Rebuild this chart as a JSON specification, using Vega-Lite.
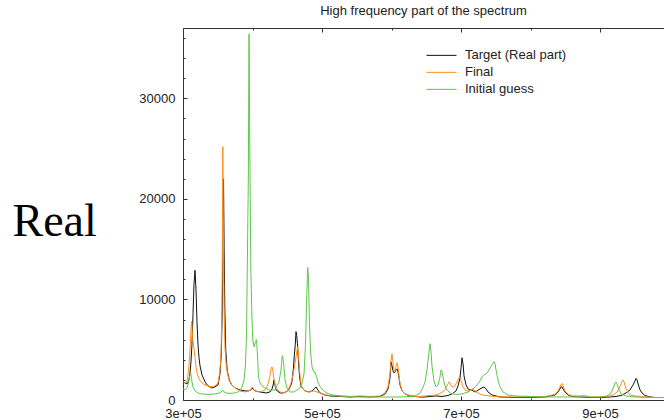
{
  "$schema": "https://vega.github.io/schema/vega-lite/v6.json",
  "width": 481,
  "height": 372,
  "autosize": {"type": "none"},
  "padding": {"left": 183, "top": 28, "right": 0, "bottom": 20},
  "background": "white",
  "title": {
    "text": "High frequency part of the spectrum",
    "font": "Liberation Sans",
    "fontSize": 13,
    "fontWeight": "normal",
    "color": "#222222",
    "anchor": "middle",
    "offset": 10
  },
  "config": {
    "view": {"stroke": null},
    "axis": {
      "grid": false,
      "domainColor": "#333333",
      "tickColor": "#333333",
      "labelFont": "Liberation Sans",
      "labelFontSize": 13,
      "labelColor": "#222222",
      "labelFlush": false,
      "labelOverlap": false
    },
    "legend": {
      "orient": "none",
      "legendX": 243,
      "legendY": 19,
      "padding": 0,
      "symbolType": "stroke",
      "symbolSize": 900,
      "symbolStrokeWidth": 1,
      "labelFont": "Liberation Sans",
      "labelFontSize": 13,
      "labelColor": "#222222",
      "labelOffset": 8,
      "clipHeight": 16.7,
      "rowPadding": 0
    }
  },
  "datasets": {
    "target": [
      {"freq":300000,"amp":1800},{"freq":302900,"amp":1700},{"freq":305800,"amp":1600},{"freq":308600,"amp":2000},{"freq":310100,"amp":2700},{"freq":311500,"amp":3800},{"freq":312900,"amp":5500},{"freq":314400,"amp":8500},{"freq":315800,"amp":11500},{"freq":317300,"amp":12900},{"freq":318700,"amp":11000},{"freq":320100,"amp":7800},{"freq":321600,"amp":5500},{"freq":323000,"amp":4200},{"freq":324500,"amp":3400},{"freq":327300,"amp":2500},{"freq":331700,"amp":1800},{"freq":336000,"amp":1400},{"freq":341700,"amp":1200},{"freq":346000,"amp":1300},{"freq":350400,"amp":1500},{"freq":353200,"amp":2600},{"freq":355000,"amp":4500},{"freq":356500,"amp":9000},{"freq":357500,"amp":15000},{"freq":358300,"amp":22000},{"freq":359200,"amp":15000},{"freq":360200,"amp":9000},{"freq":361500,"amp":5000},{"freq":363500,"amp":3000},{"freq":366500,"amp":2000},{"freq":370000,"amp":1500},{"freq":374800,"amp":1200},{"freq":382000,"amp":1000},{"freq":389200,"amp":900},{"freq":394000,"amp":900},{"freq":397800,"amp":1000},{"freq":399300,"amp":1200},{"freq":400700,"amp":1100},{"freq":403600,"amp":900},{"freq":410800,"amp":800},{"freq":419400,"amp":700},{"freq":425200,"amp":800},{"freq":428100,"amp":1100},{"freq":430000,"amp":1600},{"freq":430900,"amp":2000},{"freq":432000,"amp":1600},{"freq":433800,"amp":1000},{"freq":439600,"amp":700},{"freq":443900,"amp":700},{"freq":448200,"amp":800},{"freq":452000,"amp":1000},{"freq":454000,"amp":1300},{"freq":456500,"amp":1700},{"freq":458700,"amp":3000},{"freq":460000,"amp":4300},{"freq":461500,"amp":5500},{"freq":462600,"amp":6800},{"freq":463600,"amp":6400},{"freq":464600,"amp":5600},{"freq":466000,"amp":4000},{"freq":467700,"amp":2300},{"freq":469500,"amp":1500},{"freq":471500,"amp":1200},{"freq":475500,"amp":900},{"freq":481300,"amp":800},{"freq":485600,"amp":900},{"freq":489900,"amp":1200},{"freq":491400,"amp":1300},{"freq":493000,"amp":1100},{"freq":497100,"amp":700},{"freq":504300,"amp":500},{"freq":511500,"amp":400},{"freq":525900,"amp":350},{"freq":540300,"amp":300},{"freq":554700,"amp":350},{"freq":569000,"amp":300},{"freq":583400,"amp":350},{"freq":590600,"amp":600},{"freq":595000,"amp":1100},{"freq":597800,"amp":2200},{"freq":599300,"amp":3800},{"freq":600700,"amp":3400},{"freq":602100,"amp":2900},{"freq":603600,"amp":2700},{"freq":605000,"amp":2800},{"freq":606500,"amp":3000},{"freq":607900,"amp":3100},{"freq":609300,"amp":2800},{"freq":610800,"amp":2200},{"freq":612200,"amp":1500},{"freq":615100,"amp":900},{"freq":619400,"amp":600},{"freq":626600,"amp":400},{"freq":633800,"amp":350},{"freq":641000,"amp":300},{"freq":648200,"amp":300},{"freq":655400,"amp":350},{"freq":664000,"amp":400},{"freq":672600,"amp":350},{"freq":681300,"amp":450},{"freq":687000,"amp":600},{"freq":692800,"amp":900},{"freq":695700,"amp":1400},{"freq":698500,"amp":2200},{"freq":700000,"amp":3200},{"freq":701400,"amp":4200},{"freq":702900,"amp":3600},{"freq":704300,"amp":2400},{"freq":707200,"amp":1500},{"freq":710100,"amp":1100},{"freq":712900,"amp":1000},{"freq":715800,"amp":1000},{"freq":717300,"amp":900},{"freq":720100,"amp":800},{"freq":723000,"amp":900},{"freq":727300,"amp":1100},{"freq":730200,"amp":1200},{"freq":733100,"amp":1300},{"freq":735900,"amp":1100},{"freq":738800,"amp":800},{"freq":744600,"amp":500},{"freq":756100,"amp":300},{"freq":777700,"amp":250},{"freq":799300,"amp":250},{"freq":820800,"amp":300},{"freq":835200,"amp":500},{"freq":839600,"amp":800},{"freq":842400,"amp":1100},{"freq":843900,"amp":1300},{"freq":845300,"amp":1300},{"freq":846700,"amp":1100},{"freq":849600,"amp":800},{"freq":853900,"amp":500},{"freq":859700,"amp":350},{"freq":871200,"amp":300},{"freq":885600,"amp":250},{"freq":900000,"amp":250},{"freq":914400,"amp":300},{"freq":923000,"amp":350},{"freq":930200,"amp":450},{"freq":937400,"amp":700},{"freq":943100,"amp":1000},{"freq":947500,"amp":1500},{"freq":950300,"amp":1900},{"freq":951800,"amp":2150},{"freq":953200,"amp":2000},{"freq":954700,"amp":1600},{"freq":957500,"amp":1000},{"freq":960400,"amp":700},{"freq":964700,"amp":450},{"freq":971900,"amp":300},{"freq":979100,"amp":250},{"freq":992000,"amp":250}
    ],
    "final": [
      {"freq":300000,"amp":1800},{"freq":302900,"amp":1700},{"freq":305800,"amp":1900},{"freq":307200,"amp":2500},{"freq":308600,"amp":3500},{"freq":310100,"amp":5000},{"freq":311500,"amp":7000},{"freq":312300,"amp":7800},{"freq":312900,"amp":7500},{"freq":313600,"amp":6300},{"freq":314400,"amp":5800},{"freq":315800,"amp":5200},{"freq":317300,"amp":4200},{"freq":318700,"amp":3300},{"freq":320100,"amp":2700},{"freq":323000,"amp":2100},{"freq":327300,"amp":1700},{"freq":331700,"amp":1500},{"freq":336000,"amp":1400},{"freq":341700,"amp":1300},{"freq":346000,"amp":1400},{"freq":350400,"amp":1700},{"freq":353000,"amp":2800},{"freq":354700,"amp":4500},{"freq":356000,"amp":9000},{"freq":356700,"amp":16000},{"freq":357300,"amp":25200},{"freq":358100,"amp":17000},{"freq":359000,"amp":9500},{"freq":360400,"amp":5200},{"freq":362500,"amp":3200},{"freq":366000,"amp":2000},{"freq":370000,"amp":1500},{"freq":374800,"amp":1200},{"freq":382000,"amp":900},{"freq":389200,"amp":800},{"freq":394000,"amp":900},{"freq":397800,"amp":1000},{"freq":399300,"amp":1300},{"freq":400700,"amp":1200},{"freq":403600,"amp":900},{"freq":410800,"amp":800},{"freq":415100,"amp":900},{"freq":419400,"amp":1100},{"freq":422300,"amp":1600},{"freq":425200,"amp":2400},{"freq":427000,"amp":3200},{"freq":428100,"amp":3300},{"freq":429500,"amp":2800},{"freq":430900,"amp":2000},{"freq":433800,"amp":1200},{"freq":439600,"amp":800},{"freq":443900,"amp":700},{"freq":448200,"amp":800},{"freq":452000,"amp":1100},{"freq":455000,"amp":1600},{"freq":458300,"amp":2500},{"freq":461100,"amp":3600},{"freq":463500,"amp":4700},{"freq":465000,"amp":5300},{"freq":466200,"amp":4600},{"freq":467600,"amp":3000},{"freq":469500,"amp":1700},{"freq":471200,"amp":1200},{"freq":475500,"amp":900},{"freq":481300,"amp":800},{"freq":488500,"amp":900},{"freq":497100,"amp":700},{"freq":504300,"amp":500},{"freq":511500,"amp":450},{"freq":525900,"amp":400},{"freq":540300,"amp":350},{"freq":554700,"amp":400},{"freq":569000,"amp":350},{"freq":583400,"amp":400},{"freq":590600,"amp":700},{"freq":595000,"amp":1300},{"freq":597800,"amp":2600},{"freq":599300,"amp":3900},{"freq":600700,"amp":4600},{"freq":602100,"amp":3700},{"freq":603600,"amp":3000},{"freq":605000,"amp":2900},{"freq":606500,"amp":3300},{"freq":607900,"amp":3700},{"freq":609300,"amp":3300},{"freq":610800,"amp":2400},{"freq":612200,"amp":1600},{"freq":615100,"amp":900},{"freq":619400,"amp":600},{"freq":626600,"amp":450},{"freq":633800,"amp":350},{"freq":641000,"amp":350},{"freq":648200,"amp":400},{"freq":655400,"amp":450},{"freq":664000,"amp":500},{"freq":669800,"amp":650},{"freq":675500,"amp":900},{"freq":678400,"amp":1200},{"freq":681300,"amp":1600},{"freq":682700,"amp":1800},{"freq":684200,"amp":1700},{"freq":687000,"amp":1300},{"freq":689900,"amp":1300},{"freq":692800,"amp":1600},{"freq":695700,"amp":2000},{"freq":697100,"amp":2200},{"freq":698500,"amp":2200},{"freq":700000,"amp":1900},{"freq":702900,"amp":1300},{"freq":705700,"amp":1000},{"freq":708600,"amp":900},{"freq":712900,"amp":950},{"freq":715800,"amp":1100},{"freq":717300,"amp":1100},{"freq":720100,"amp":900},{"freq":724500,"amp":700},{"freq":730200,"amp":500},{"freq":741700,"amp":400},{"freq":756100,"amp":300},{"freq":777700,"amp":300},{"freq":799300,"amp":300},{"freq":820800,"amp":350},{"freq":835200,"amp":550},{"freq":839600,"amp":900},{"freq":842400,"amp":1300},{"freq":843900,"amp":1550},{"freq":845300,"amp":1650},{"freq":846700,"amp":1400},{"freq":849600,"amp":900},{"freq":853900,"amp":550},{"freq":859700,"amp":400},{"freq":871200,"amp":400},{"freq":877000,"amp":450},{"freq":885600,"amp":300},{"freq":900000,"amp":300},{"freq":914400,"amp":400},{"freq":920100,"amp":550},{"freq":924400,"amp":800},{"freq":927300,"amp":1100},{"freq":930200,"amp":1600},{"freq":931600,"amp":1850},{"freq":933100,"amp":2000},{"freq":934500,"amp":1800},{"freq":937400,"amp":1100},{"freq":940300,"amp":700},{"freq":943100,"amp":500},{"freq":950300,"amp":400},{"freq":957500,"amp":350},{"freq":964700,"amp":300},{"freq":979100,"amp":250},{"freq":992000,"amp":250}
    ],
    "guess": [
      {"freq":300000,"amp":1100},{"freq":302900,"amp":1000},{"freq":305800,"amp":1200},{"freq":307200,"amp":1500},{"freq":308600,"amp":2000},{"freq":310100,"amp":2500},{"freq":311000,"amp":2700},{"freq":311500,"amp":2500},{"freq":312900,"amp":1800},{"freq":314400,"amp":1300},{"freq":317300,"amp":900},{"freq":321600,"amp":700},{"freq":327300,"amp":600},{"freq":336000,"amp":550},{"freq":346000,"amp":600},{"freq":353200,"amp":700},{"freq":356100,"amp":900},{"freq":357600,"amp":950},{"freq":359000,"amp":800},{"freq":364700,"amp":650},{"freq":374800,"amp":700},{"freq":379100,"amp":800},{"freq":384600,"amp":1200},{"freq":387800,"amp":2000},{"freq":389900,"amp":3500},{"freq":391400,"amp":6600},{"freq":392500,"amp":13200},{"freq":394000,"amp":22000},{"freq":395000,"amp":36400},{"freq":396100,"amp":25000},{"freq":397600,"amp":13000},{"freq":398900,"amp":9000},{"freq":400300,"amp":6000},{"freq":402200,"amp":5300},{"freq":404300,"amp":5800},{"freq":405700,"amp":6000},{"freq":406900,"amp":4800},{"freq":408600,"amp":2300},{"freq":410800,"amp":1700},{"freq":415100,"amp":1300},{"freq":425200,"amp":950},{"freq":432300,"amp":1000},{"freq":438100,"amp":1800},{"freq":441000,"amp":3000},{"freq":442800,"amp":4400},{"freq":444600,"amp":3800},{"freq":446700,"amp":2000},{"freq":449600,"amp":1200},{"freq":454000,"amp":800},{"freq":459700,"amp":800},{"freq":464000,"amp":1000},{"freq":468300,"amp":1200},{"freq":471200,"amp":1700},{"freq":474100,"amp":2600},{"freq":476200,"amp":5500},{"freq":477700,"amp":9500},{"freq":479400,"amp":13200},{"freq":480600,"amp":12000},{"freq":482000,"amp":7500},{"freq":483500,"amp":4800},{"freq":485600,"amp":3300},{"freq":487800,"amp":2800},{"freq":489900,"amp":2800},{"freq":492100,"amp":2300},{"freq":495000,"amp":1600},{"freq":498600,"amp":1200},{"freq":504300,"amp":800},{"freq":511500,"amp":550},{"freq":525900,"amp":400},{"freq":540300,"amp":350},{"freq":554700,"amp":300},{"freq":569000,"amp":300},{"freq":583400,"amp":300},{"freq":597800,"amp":300},{"freq":612200,"amp":300},{"freq":626600,"amp":350},{"freq":636000,"amp":450},{"freq":641000,"amp":700},{"freq":645000,"amp":1200},{"freq":648200,"amp":1800},{"freq":651000,"amp":3000},{"freq":653900,"amp":4800},{"freq":655400,"amp":5600},{"freq":656800,"amp":4800},{"freq":658300,"amp":3300},{"freq":661100,"amp":1900},{"freq":664000,"amp":1300},{"freq":666900,"amp":1500},{"freq":669800,"amp":2300},{"freq":671200,"amp":3000},{"freq":672600,"amp":2800},{"freq":675500,"amp":1800},{"freq":678400,"amp":1100},{"freq":684200,"amp":700},{"freq":692800,"amp":550},{"freq":701400,"amp":600},{"freq":710100,"amp":800},{"freq":717300,"amp":1100},{"freq":723000,"amp":1500},{"freq":727300,"amp":1900},{"freq":730200,"amp":2300},{"freq":733100,"amp":2500},{"freq":735900,"amp":2600},{"freq":738800,"amp":2800},{"freq":741700,"amp":3200},{"freq":744600,"amp":3500},{"freq":747500,"amp":3800},{"freq":749000,"amp":3600},{"freq":750300,"amp":3000},{"freq":753200,"amp":2000},{"freq":756100,"amp":1300},{"freq":760400,"amp":800},{"freq":767600,"amp":500},{"freq":777700,"amp":400},{"freq":799300,"amp":350},{"freq":820800,"amp":300},{"freq":842400,"amp":300},{"freq":871200,"amp":300},{"freq":900000,"amp":300},{"freq":910100,"amp":400},{"freq":914400,"amp":600},{"freq":917200,"amp":900},{"freq":920100,"amp":1400},{"freq":921600,"amp":1700},{"freq":923000,"amp":1800},{"freq":924400,"amp":1600},{"freq":927300,"amp":1000},{"freq":930200,"amp":600},{"freq":937400,"amp":400},{"freq":950300,"amp":300},{"freq":971900,"amp":250},{"freq":992000,"amp":250}
    ]
  },
  "layer": [
    {
      "data": {"name": "target"},
      "mark": {"type": "line", "strokeWidth": 1, "clip": true},
      "encoding": {
        "x": {
          "field": "freq", "type": "quantitative",
          "scale": {"domain": [300000, 992000], "nice": false, "zero": false},
          "axis": {
            "orient": "bottom", "title": null,
            "values": [300000, 400000, 500000, 600000, 700000, 800000, 900000],
            "labelExpr": "datum.value % 200000 == 100000 ? format(datum.value / 100000, 'd') + 'e+05' : ''",
            "tickSize": {"condition": {"test": "datum.value % 200000 == 100000", "value": -4}, "value": -2},
            "labelPadding": 11.5
          }
        },
        "y": {
          "field": "amp", "type": "quantitative",
          "scale": {"domain": [0, 37000], "nice": false},
          "axis": {
            "orient": "left",
            "values": [0, 2000, 4000, 6000, 8000, 10000, 12000, 14000, 16000, 18000, 20000, 22000, 24000, 26000, 28000, 30000, 32000, 34000, 36000],
            "labelExpr": "datum.value % 10000 == 0 ? format(datum.value, 'd') : ''",
            "tickSize": {"condition": {"test": "datum.value % 10000 == 0", "value": -4}, "value": -2},
            "labelPadding": 12,
            "title": "Real",
            "titleFont": "Liberation Serif",
            "titleFontSize": 46,
            "titleFontWeight": "normal",
            "titleColor": "#000000",
            "titleAngle": 0,
            "titleAlign": "left",
            "titleBaseline": "alphabetic",
            "titleX": -171,
            "titleY": 207
          }
        },
        "color": {
          "datum": "Target (Real part)", "type": "nominal",
          "scale": {"domain": ["Target (Real part)", "Final", "Initial guess"], "range": ["#111111", "#ff8c1a", "#5cc84a"]},
          "legend": {"title": null}
        }
      }
    },
    {
      "data": {"name": "final"},
      "mark": {"type": "line", "strokeWidth": 1, "clip": true},
      "encoding": {
        "x": {"field": "freq", "type": "quantitative", "axis": null},
        "y": {"field": "amp", "type": "quantitative", "axis": null},
        "color": {"datum": "Final", "type": "nominal"}
      }
    },
    {
      "data": {"name": "guess"},
      "mark": {"type": "line", "strokeWidth": 1, "clip": true},
      "encoding": {
        "x": {
          "field": "freq", "type": "quantitative",
          "axis": {
            "orient": "top", "title": null, "labels": false,
            "values": [300000, 400000, 500000, 600000, 700000, 800000, 900000],
            "tickSize": {"condition": {"test": "datum.value % 200000 == 100000", "value": -4}, "value": -2}
          }
        },
        "y": {"field": "amp", "type": "quantitative", "axis": null},
        "color": {"datum": "Initial guess", "type": "nominal"}
      }
    }
  ],
  "resolve": {"axis": {"x": "independent", "y": "independent"}}
}
